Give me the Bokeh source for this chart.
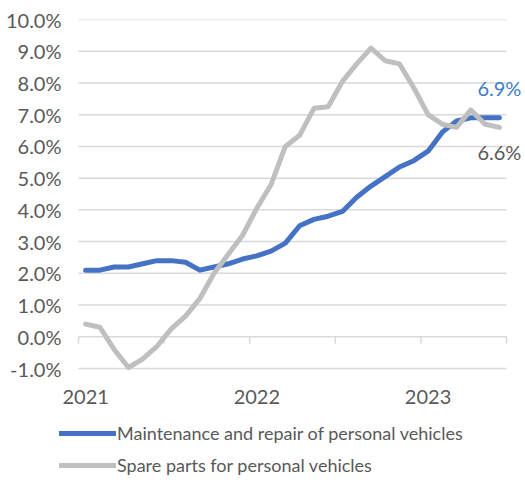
from bokeh.plotting import figure
from bokeh.models import (Range1d, FixedTicker, PrintfTickFormatter, Legend, LegendItem,
                          Label, ColumnDataSource)
from bokeh.core.properties import value
from bokeh.embed import file_html
from bokeh.resources import INLINE

# ---- data (monthly, Jan 2021 .. Jun 2023), % y/y ----
months = ["2021-01", "2021-02", "2021-03", "2021-04", "2021-05", "2021-06",
          "2021-07", "2021-08", "2021-09", "2021-10", "2021-11", "2021-12",
          "2022-01", "2022-02", "2022-03", "2022-04", "2022-05", "2022-06",
          "2022-07", "2022-08", "2022-09", "2022-10", "2022-11", "2022-12",
          "2023-01", "2023-02", "2023-03", "2023-04", "2023-05", "2023-06"]
maintenance = [2.1, 2.1, 2.2, 2.2, 2.3, 2.4, 2.4, 2.35, 2.1, 2.2, 2.3, 2.45,
               2.55, 2.7, 2.95, 3.5, 3.7, 3.8, 3.95, 4.4, 4.75, 5.05, 5.35, 5.55,
               5.85, 6.45, 6.8, 6.9, 6.9, 6.9]
spare_parts = [0.4, 0.3, -0.4, -0.97, -0.7, -0.3, 0.25, 0.65, 1.2, 2.0, 2.6, 3.2,
               4.05, 4.8, 6.0, 6.35, 7.2, 7.25, 8.05, 8.6, 9.1, 8.7, 8.6, 7.85,
               7.0, 6.7, 6.6, 7.15, 6.7, 6.6]
series_names = ["Maintenance and repair of personal vehicles",
                "Spare parts for personal vehicles"]
y_ticks = [-1, 0, 1, 2, 3, 4, 5, 6, 7, 8, 9, 10]
half_year_ticks = [0, 6, 12, 18, 24, 30]
year_pos = [0.5, 12.5, 24.5]
year_text = ["2021", "2022", "2023"]

BLUE = "#4472C4"
GRAY = "#BFBFBF"
TEXT = "#595959"
GRID = "#D9D9D9"
FONT = "Lato"

n = len(months)
x = [i + 0.5 for i in range(n)]
src = ColumnDataSource(dict(x=x, m=maintenance, s=spare_parts))

W, H = 522, 477
PW = 428                # plot-area width
PX = PW / n             # px per month
FL = 59                 # frame left (fig px) = legend left
PL = 78                 # plot-area left (gridline start)
FT = 19
PH = 349                # plot-area height (10% .. -1%)
ymin, ymax = min(y_ticks), max(y_ticks)
PPU = PH / (ymax - ymin)
x0 = -(PL - FL) / PX
x1 = n + (W - (PL + PW)) / PX
y0 = ymin - (H - FT - PH) / PPU

p = figure(frame_width=W - FL, frame_height=H - FT, output_backend="svg",
           toolbar_location=None,
           x_range=Range1d(x0, x1), y_range=Range1d(y0, ymax),
           min_border_left=FL, min_border_right=0,
           min_border_top=FT, min_border_bottom=0)
p.outline_line_color = None
p.background_fill_color = "white"
p.border_fill_color = "white"
p.xaxis.visible = False

# y axis
p.yaxis.ticker = FixedTicker(ticks=y_ticks)
p.yaxis.formatter = PrintfTickFormatter(format="%.1f%%")
p.yaxis.axis_line_color = None
p.yaxis.major_tick_line_color = None
p.yaxis.minor_tick_line_color = None
p.yaxis.major_tick_in = 0
p.yaxis.major_tick_out = 0
p.yaxis.major_label_standoff = -2
p.yaxis.major_label_text_font = FONT
p.yaxis.major_label_text_font_size = "20px"
p.yaxis.major_label_text_color = TEXT

p.xgrid.visible = False
p.ygrid.visible = False

# horizontal gridlines over the plot area only
p.segment(x0=[0] * len(y_ticks), x1=[n] * len(y_ticks), y0=y_ticks, y1=y_ticks,
          line_color=GRID, line_width=1.5)
# tick marks on the zero line
tick_len = 7 / PPU
p.segment(x0=half_year_ticks, x1=half_year_ticks, y0=[0] * len(half_year_ticks),
          y1=[-tick_len] * len(half_year_ticks), line_color=GRID, line_width=1.5)

# year labels under the plot area
p.text(x=year_pos, y=[ymin] * len(year_pos), text=year_text, y_offset=28,
       text_align="center", text_baseline="middle", text_font=value(FONT),
       text_font_size="20px", text_color=TEXT)

r_m = p.line("x", "m", source=src, line_color=BLUE, line_width=5,
             line_cap="round", line_join="round")
r_s = p.line("x", "s", source=src, line_color=GRAY, line_width=5,
             line_cap="round", line_join="round")

p.add_layout(Label(x=x[-1], y=maintenance[-1], text=f"{maintenance[-1]:.1f}%",
                   y_offset=30, text_align="center", text_baseline="middle",
                   text_font=FONT, text_font_size="20px", text_color="#3D7CC9"))
p.add_layout(Label(x=x[-1], y=spare_parts[-1], text=f"{spare_parts[-1]:.1f}%",
                   y_offset=-25, text_align="center", text_baseline="middle",
                   text_font=FONT, text_font_size="20px", text_color=TEXT))

legend = Legend(items=[LegendItem(label=series_names[0], renderers=[r_m]),
                       LegendItem(label=series_names[1], renderers=[r_s])],
                location=(0, 1), orientation="vertical",
                label_text_font=FONT, label_text_font_size="18px",
                label_text_color=TEXT, glyph_width=57, glyph_height=20,
                label_height=20, spacing=10, label_standoff=1,
                padding=0, margin=0, border_line_color=None,
                background_fill_alpha=0)
p.add_layout(legend, "center")

open("out.html", "w").write(file_html(p, INLINE))
